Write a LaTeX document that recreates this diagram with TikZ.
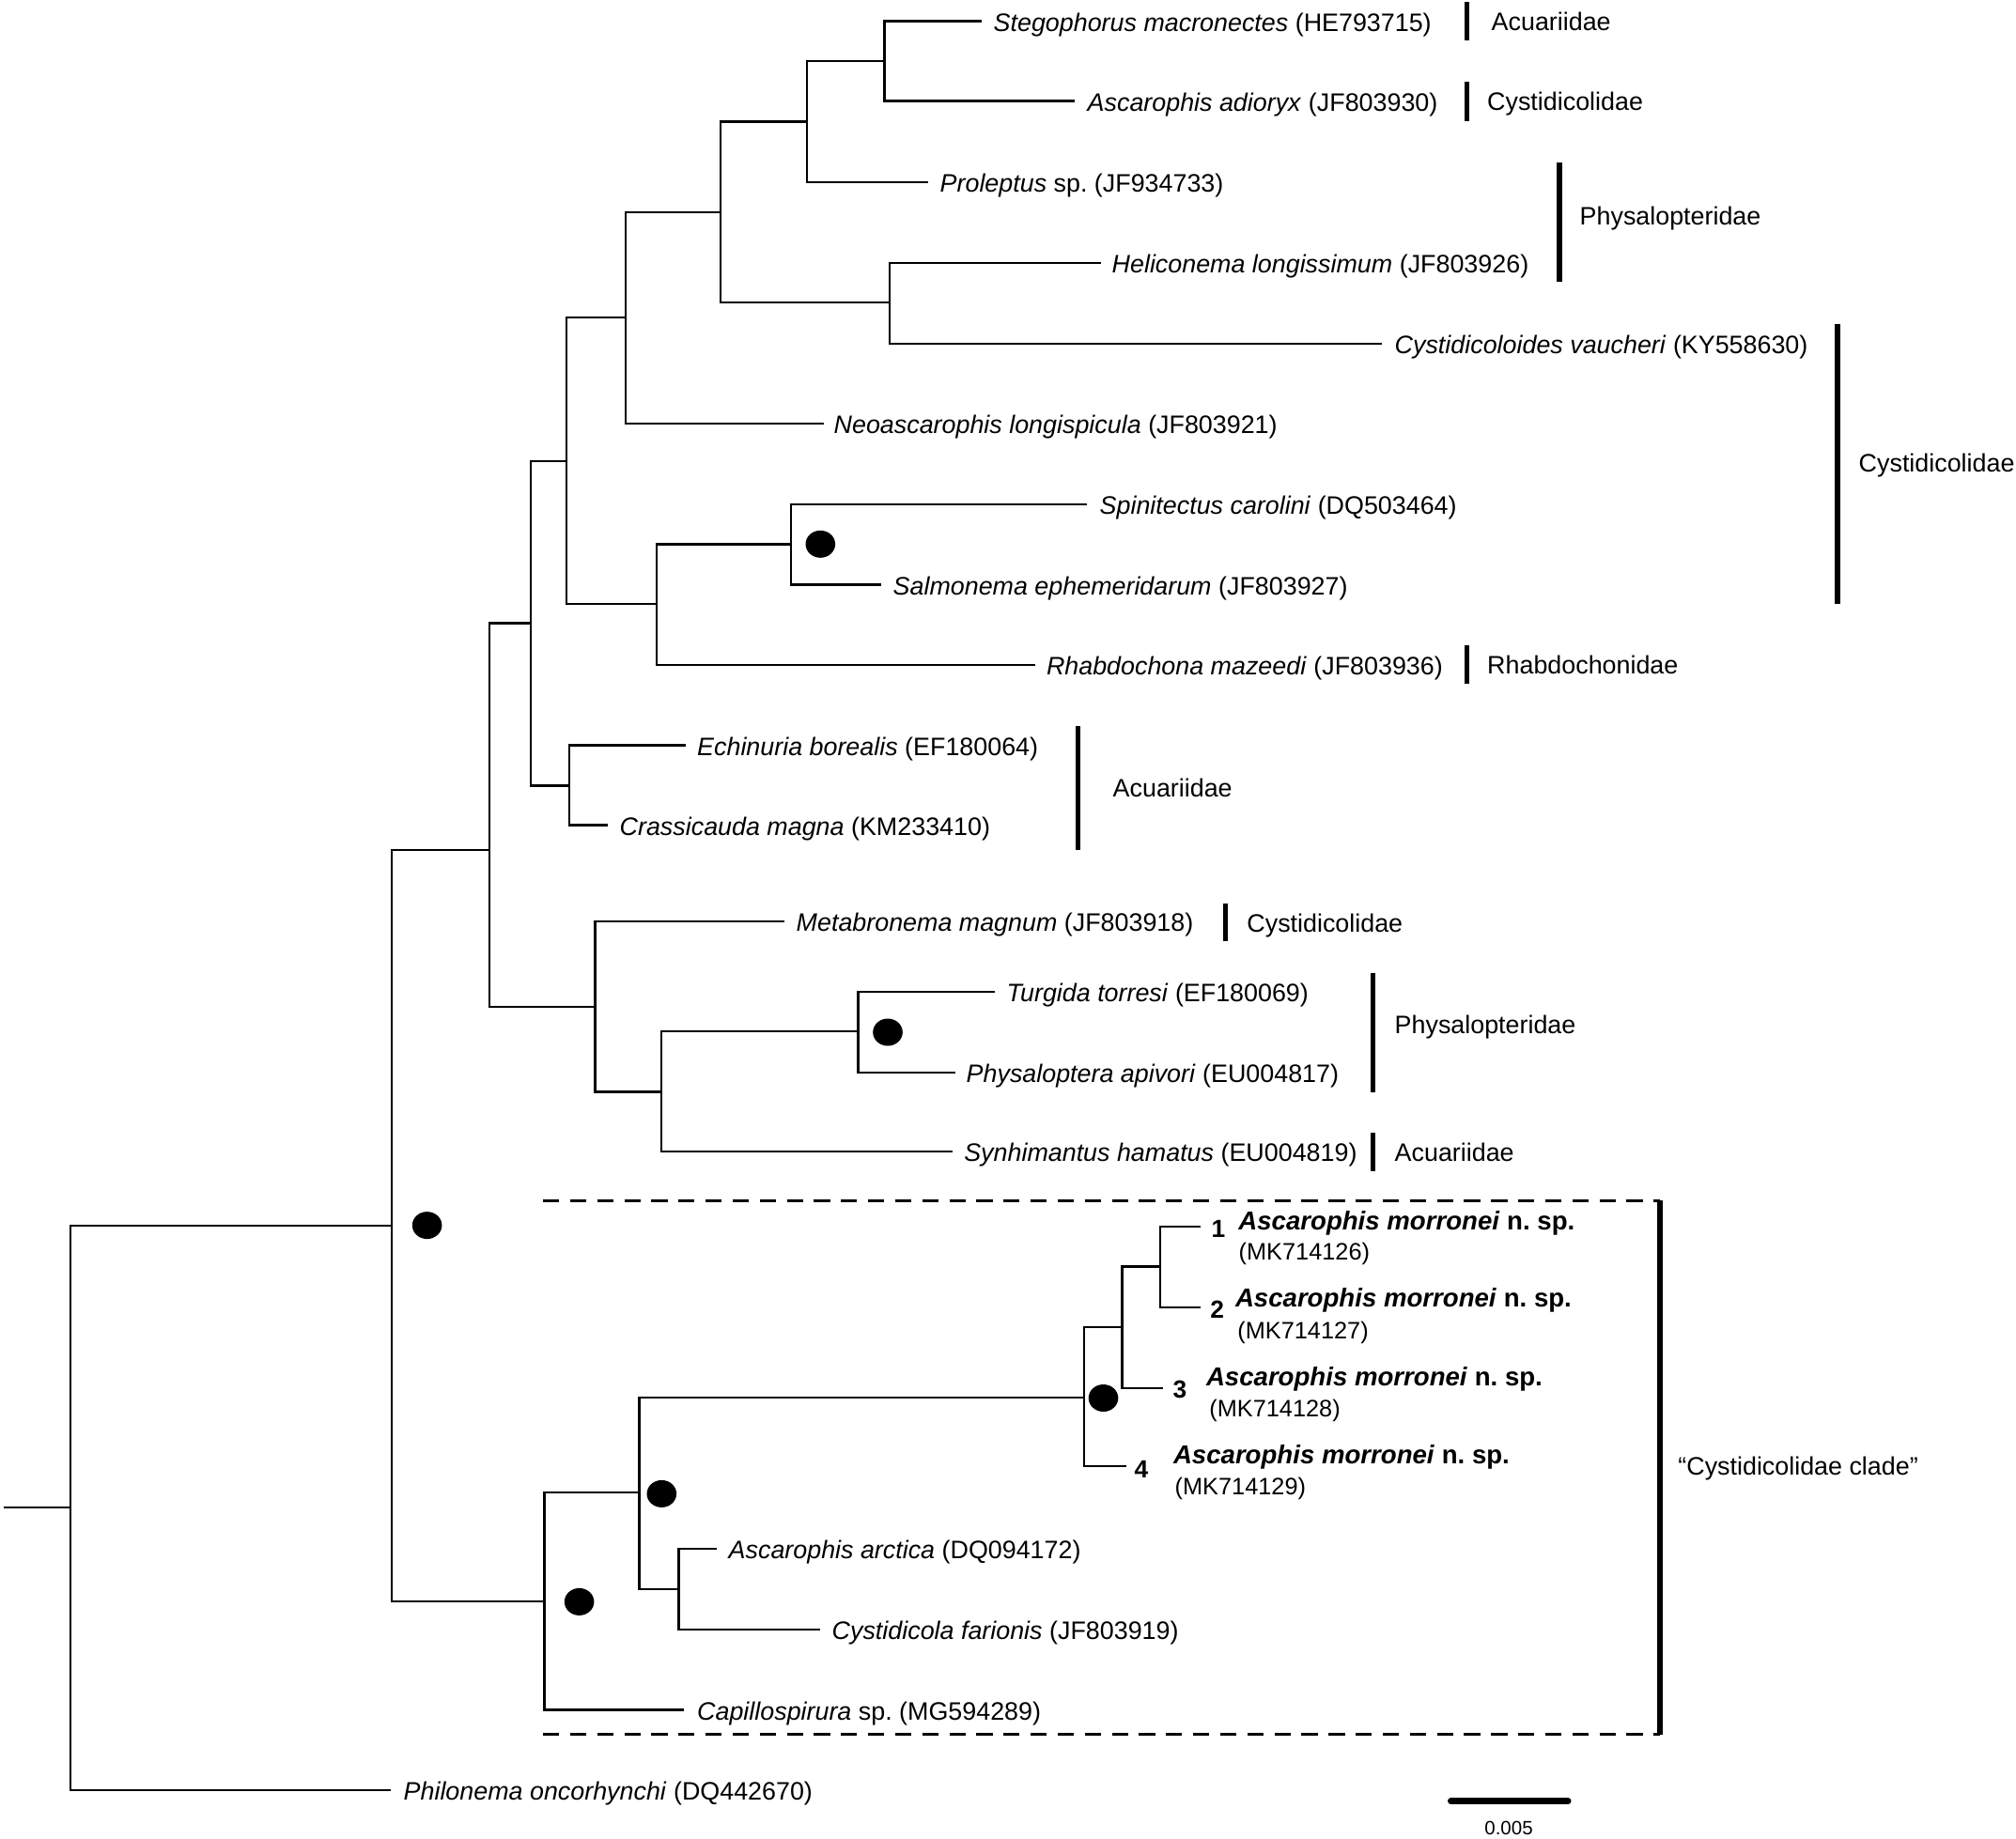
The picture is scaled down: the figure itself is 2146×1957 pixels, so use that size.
\documentclass[tikz,border=0pt]{standalone}
\usepackage{fontspec}
\setmainfont{Liberation Sans}
\frenchspacing
\begin{document}
\begin{tikzpicture}[x=0.01cm,y=-0.01cm,
  br/.style={line width=0.62pt},
  fambar/.style={line width=1.45pt},
  dashline/.style={line width=0.8pt, dash pattern=on 4.9pt off 3.3pt},
  lab/.style={anchor=base west, inner sep=0pt, font=\fontsize{7.64}{9}\selectfont},
  mname/.style={anchor=base west, inner sep=0pt, font=\fontsize{7.85}{9}\selectfont\bfseries},
  macc/.style={anchor=base west, inner sep=0pt, font=\fontsize{7.2}{9}\selectfont},
  mnum/.style={anchor=base west, inner sep=0pt, font=\fontsize{7.5}{9}\selectfont\bfseries},
  sup/.style={fill=black, draw=none}]
\useasboundingbox (0,0) rectangle (2146,1957);

% ---------- leaf tips ----------
\coordinate (t1) at (1045,22.5);
\coordinate (t2) at (1144,107.5);
\coordinate (t3) at (988,194);
\coordinate (t4) at (1172,280);
\coordinate (t5) at (1471.4,366);
\coordinate (t6) at (877,451);
\coordinate (t7) at (1157,537);
\coordinate (t8) at (938,622.5);
\coordinate (t9) at (1102.3,708);
\coordinate (t10) at (729.6,793.5);
\coordinate (t11) at (647,878.5);
\coordinate (t12) at (835,981);
\coordinate (t13) at (1058.5,1056);
\coordinate (t14) at (1017,1142);
\coordinate (t15) at (1013.6,1226);
\coordinate (t16) at (1278,1306);
\coordinate (t17) at (1278,1392);
\coordinate (t18) at (1237.5,1477.7);
\coordinate (t19) at (1199,1561);
\coordinate (t20) at (763.2,1648.6);
\coordinate (t21) at (873.4,1734.7);
\coordinate (t22) at (728,1820.4);
\coordinate (t23) at (416,1906);

% ---------- leaf labels ----------
\node[lab] (n1) at (1057,33) {\textit{Stegophorus macronectes} (HE793715)};
\node[lab] (n2) at (1157,118) {\textit{Ascarophis adioryx} (JF803930)};
\node[lab] (n3) at (1000,204.5) {\textit{Proleptus} sp. (JF934733)};
\node[lab] (n4) at (1183,290.5) {\textit{Heliconema longissimum} (JF803926)};
\node[lab] (n5) at (1484,376.5) {\textit{Cystidicoloides vaucheri} (KY558630)};
\node[lab] (n6) at (887,461.5) {\textit{Neoascarophis longispicula} (JF803921)};
\node[lab] (n7) at (1170,547.5) {\textit{Spinitectus carolini} (DQ503464)};
\node[lab] (n8) at (950,633) {\textit{Salmonema ephemeridarum} (JF803927)};
\node[lab] (n9) at (1113.3,718.5) {\textit{Rhabdochona mazeedi} (JF803936)};
\node[lab] (n10) at (741.5,804) {\textit{Echinuria borealis} (EF180064)};
\node[lab] (n11) at (659,889) {\textit{Crassicauda magna} (KM233410)};
\node[lab] (n12) at (847,991.5) {\textit{Metabronema magnum} (JF803918)};
\node[lab] (n13) at (1071,1066.5) {\textit{Turgida torresi} (EF180069)};
\node[lab] (n14) at (1028,1152.5) {\textit{Physaloptera apivori} (EU004817)};
\node[lab] (n15) at (1025.6,1236.5) {\textit{Synhimantus hamatus} (EU004819)};
\node[lab] (n20) at (775,1659) {\textit{Ascarophis arctica} (DQ094172)};
\node[lab] (n21) at (885,1745) {\textit{Cystidicola farionis} (JF803919)};
\node[lab] (n22) at (741.5,1831) {\textit{Capillospirura} sp. (MG594289)};
\node[lab] (n23) at (429,1916.5) {\textit{Philonema oncorhynchi} (DQ442670)};

% new species
\node[mnum] (k1) at (1289,1317) {1};
\node[mname] (m1) at (1317.7,1309) {\textit{Ascarophis morronei} n. sp.};
\node[macc] (a1) at (1318,1341.7) {(MK714126)};
\node[mnum] (k2) at (1287.7,1403.3) {2};
\node[mname] (m2) at (1314.3,1391.7) {\textit{Ascarophis morronei} n. sp.};
\node[macc] (a2) at (1316.7,1425) {(MK714127)};
\node[mnum] (k3) at (1248,1488) {3};
\node[mname] (m3) at (1283.3,1475) {\textit{Ascarophis morronei} n. sp.};
\node[macc] (a3) at (1286.7,1508.3) {(MK714128)};
\node[mnum] (k4) at (1207,1573) {4};
\node[mname] (m4) at (1248.3,1558.3) {\textit{Ascarophis morronei} n. sp.};
\node[macc] (a4) at (1250,1591.5) {(MK714129)};

% ---------- internal nodes ----------
\coordinate (A) at (941.5,65);
\coordinate (B) at (859,129.5);
\coordinate (C) at (947,322);
\coordinate (D) at (767,226);
\coordinate (E) at (666,338);
\coordinate (F) at (842,579.5);
\coordinate (G) at (699,643);
\coordinate (H) at (603,491);
\coordinate (I) at (606,836.5);
\coordinate (J) at (565,663.5);
\coordinate (K) at (913.4,1098);
\coordinate (L) at (703.6,1162.5);
\coordinate (M) at (633.5,1072);
\coordinate (N) at (521,905);
\coordinate (P) at (1235.3,1348.5);
\coordinate (Q) at (1194.4,1413);
\coordinate (R) at (1154.2,1488);
\coordinate (S) at (722.5,1692);
\coordinate (T) at (680.5,1589);
\coordinate (U) at (579.4,1705);
\coordinate (V) at (417.4,1304.6);
\coordinate (W) at (75,1605.3);
\coordinate (root) at (3.5,1605.3);

% ---------- branches ----------
\draw[br] (A) |- (t1); \draw[br] (A) |- (t2);
\draw[br] (B) |- (A);  \draw[br] (B) |- (t3);
\draw[br] (C) |- (t4); \draw[br] (C) |- (t5);
\draw[br] (D) |- (B);  \draw[br] (D) |- (C);
\draw[br] (E) |- (D);  \draw[br] (E) |- (t6);
\draw[br] (F) |- (t7); \draw[br] (F) |- (t8);
\draw[br] (G) |- (F);  \draw[br] (G) |- (t9);
\draw[br] (H) |- (E);  \draw[br] (H) |- (G);
\draw[br] (I) |- (t10); \draw[br] (I) |- (t11);
\draw[br] (J) |- (H);  \draw[br] (J) |- (I);
\draw[br] (K) |- (t13); \draw[br] (K) |- (t14);
\draw[br] (L) |- (K);  \draw[br] (L) |- (t15);
\draw[br] (M) |- (t12); \draw[br] (M) |- (L);
\draw[br] (N) |- (J);  \draw[br] (N) |- (M);
\draw[br] (P) |- (t16); \draw[br] (P) |- (t17);
\draw[br] (Q) |- (P);  \draw[br] (Q) |- (t18);
\draw[br] (R) |- (Q);  \draw[br] (R) |- (t19);
\draw[br] (S) |- (t20); \draw[br] (S) |- (t21);
\draw[br] (T) |- (R);  \draw[br] (T) |- (S);
\draw[br] (U) |- (T);  \draw[br] (U) |- (t22);
\draw[br] (V) |- (N);  \draw[br] (V) |- (U);
\draw[br] (W) |- (V);  \draw[br] (W) |- (t23);
\draw[br] (root) -- (W);

% ---------- support dots ----------
\fill[sup] (873.3,579.3) ellipse [x radius=15.8, y radius=14.5];
\fill[sup] (945,1099) ellipse [x radius=15.8, y radius=14.5];
\fill[sup] (454.6,1304.6) ellipse [x radius=15.8, y radius=14.5];
\fill[sup] (1174.5,1488.5) ellipse [x radius=15.8, y radius=14.5];
\fill[sup] (704.3,1590.4) ellipse [x radius=15.8, y radius=14.5];
\fill[sup] (616.6,1705.4) ellipse [x radius=15.8, y radius=14.5];

% ---------- family bars and labels ----------
\draw[fambar] (1561.3,2.2) -- (1561.3,43.3);
\node[lab] (f1) at (1587,32.8) {Acuariidae};
\draw[fambar] (1561.3,87) -- (1561.3,128.6);
\node[lab] (f2) at (1582.5,117.8) {Cystidicolidae};
\draw[fambar] (1660,173) -- (1660,300);
\node[lab] (f3) at (1681,239.8) {Physalopteridae};
\draw[fambar] (1956,344.6) -- (1956,642.8);
\node[lab] (f4) at (1978,502.8) {Cystidicolidae};
\draw[fambar] (1561.3,687) -- (1561.3,728);
\node[lab] (f5) at (1582.5,717.8) {Rhabdochonidae};
\draw[fambar] (1147.6,773) -- (1147.6,905);
\node[lab] (f6) at (1184,848.4) {Acuariidae};
\draw[fambar] (1304.8,961.7) -- (1304.8,1001.5);
\node[lab] (f7) at (1326.7,992.8) {Cystidicolidae};
\draw[fambar] (1461.2,1035.5) -- (1461.2,1162.7);
\node[lab] (f8) at (1484,1100.4) {Physalopteridae};
\draw[fambar] (1461.2,1206) -- (1461.2,1247);
\node[lab] (f9) at (1484,1236.8) {Acuariidae};

% ---------- dashed clade box ----------
\draw[dashline] (578,1278.3) -- (1767,1278.3);
\draw[dashline] (578,1846.5) -- (1767,1846.5);
\draw[fambar] (1767,1278.3) -- (1767,1846.5);
\node[lab] (f10) at (1785.7,1570.8) {“Cystidicolidae clade”};

% ---------- scale bar ----------
\coordinate (sb1) at (1544.5,1917.7);
\coordinate (sb2) at (1669,1917.7);
\draw[line width=2pt, line cap=round] (sb1) -- (sb2);
\node[inner sep=0pt, font=\fontsize{5.83}{7}\selectfont] (sbl) at (1606,1946.7) {0.005};
\end{tikzpicture}
\end{document}
